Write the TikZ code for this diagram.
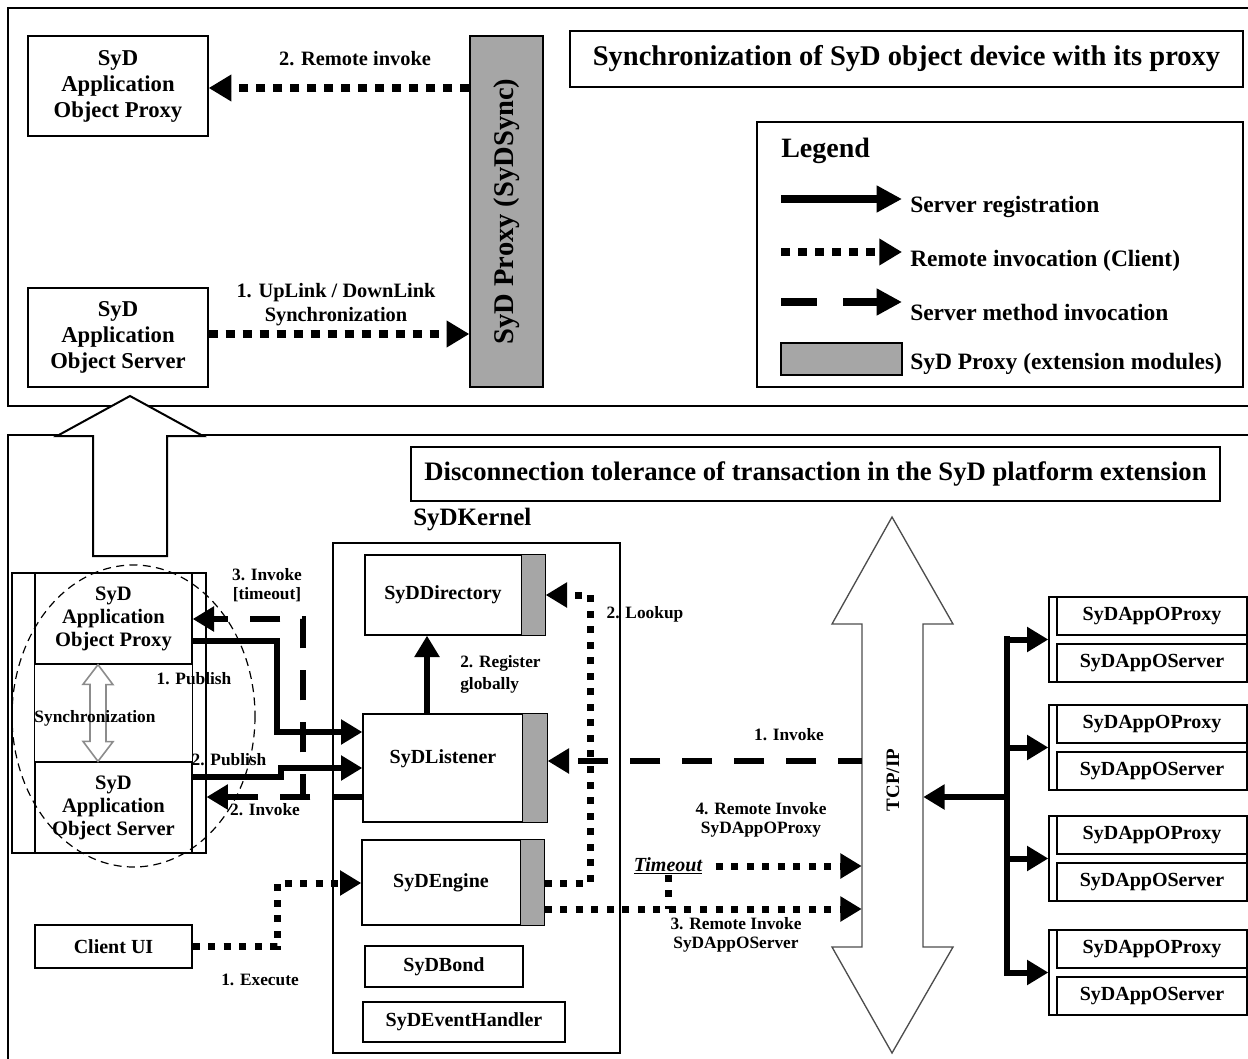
\documentclass[tikz,border=0pt]{standalone}
\usepackage{fontspec}
\setmainfont{Liberation Serif}
\usetikzlibrary{arrows.meta}

\definecolor{proxgray}{HTML}{A6A6A6}
\definecolor{netgray}{HTML}{4D4D4D}
\definecolor{syncgray}{HTML}{8C8C8C}

\newcommand\setfs[2]{\fontsize{#1}{#2}\selectfont\bfseries}

\tikzset{
  sz/.style 2 args={minimum width=#1*0.75pt, minimum height=#2*0.75pt},
  frame/.style={line width=1.5pt},
  box/.style={draw, line width=1pt, inner sep=0pt, align=center},
  topbox/.style={box, font=\setfs{17}{19.5}},
  kbox/.style={box, font=\setfs{15}{17}},
  cbox/.style={box, font=\setfs{15.4}{17.25}},
  lbl/.style={font=\setfs{13}{14.25}, align=center, inner sep=0pt},
  legtxt/.style={anchor=west, inner sep=0pt, font=\setfs{17.6}{20}},
  proxfill/.style={draw, line width=1pt, fill=proxgray, inner sep=0pt},
  tip/.style={-{Triangle[length=16pt,width=18pt]}},
  solidarrow/.style={line width=4.5pt, line join=miter, tip},
  dotline/.style={line width=5.25pt, dash pattern=on 5.25pt off 6.4pt},
  dotarrow/.style={dotline, tip},
  bigdot/.style={line width=6pt, dash pattern=on 6.75pt off 6pt, -{Triangle[length=17pt,width=19pt]}},
  dasharrow/.style={line width=5pt, dash pattern=on 22.5pt off 16.5pt, tip},
  hollow/.style={draw, fill=white, line width=1.5pt, line join=miter},
}

\begin{document}
\begin{tikzpicture}[x=0.75pt,y=-0.75pt]
\useasboundingbox (0,0) rectangle (1248,1059);

% panel frames
\draw[frame] (1260,8) -- (8,8) -- (8,406) -- (1260,406);
\draw[frame] (1260,435) -- (8,435) -- (8,1070);

% hollow arrow linking the two panels
\draw[hollow] (93,556) -- (93,436) -- (57,436) -- (130,396) -- (203,436) -- (167,436) -- (167,556) -- cycle;

% ---------------- upper panel ----------------
\node[topbox, sz={180}{100}] (topProxy) at (118,86) {SyD\\Application\\Object Proxy};
\node[topbox, sz={180}{99}] (topServer) at (118,337.5) {SyD\\Application\\Object Server};
\node[proxfill, sz={73}{351}] (syncProxy) at (506.5,211.5) {};
\node[rotate=90, font=\setfs{21.4}{24}] (syncTxt) at (syncProxy.center) {SyD Proxy (SyDSync)};

\draw[bigdot] (syncProxy.west |- 0,88) -- (topProxy.east |- 0,88);
\node[font=\setfs{15.3}{18}] (lblRemote) at (355,59) {2. Remote invoke};
\draw[bigdot] (topServer.east |- 0,334) -- (syncProxy.west |- 0,334);
\node[font=\setfs{15.3}{18}, align=center] (lblUp) at (336,305) {1. UpLink / DownLink\\Synchronization};

\node[box, sz={673}{56}, font=\setfs{21.4}{24}] (title1) at (906.5,59) {Synchronization of SyD object device with its proxy};

% legend
\node[box, sz={486}{265}] (legend) at (1000,254.5) {};
\node[anchor=west, inner sep=0pt, font=\setfs{21}{24}] (legHead) at (781,151) {Legend};
\coordinate (l1a) at (781,199); \coordinate (l1b) at (902,199);
\draw[line width=5.5pt, -{Triangle[length=19pt,width=19pt]}] (l1a) -- (l1b);
\node[legtxt] (leg1) at (910,207) {Server registration};
\coordinate (l2a) at (781,252); \coordinate (l2b) at (902,252);
\draw[bigdot] (l2a) -- (l2b);
\node[legtxt] (leg2) at (910,261) {Remote invocation (Client)};
\coordinate (l3a) at (781,302); \coordinate (l3b) at (902,302);
\draw[line width=6pt, dash pattern=on 27pt off 19.5pt, -{Triangle[length=19pt,width=19pt]}] (l3a) -- (l3b);
\node[legtxt] (leg3) at (910,312) {Server method invocation};
\node[proxfill, sz={121}{32}] (legBox) at (841.5,359) {};
\node[legtxt] (leg4) at (910,364) {SyD Proxy (extension modules)};

% ---------------- lower panel ----------------
\node[box, sz={809}{54}, font=\setfs{20}{24}] (title2) at (815.5,474) {Disconnection tolerance of transaction in the SyD platform extension};
\node[anchor=west, inner sep=0pt, font=\setfs{18.75}{22}] (kernelLbl) at (413,520) {SyDKernel};

% kernel and its modules
\node[draw, line width=2pt, inner sep=0pt, sz={287}{510}] (kernel) at (476.5,798) {};
\node[kbox, sz={180}{80}] (dir) at (455,595) {SyDDirectory\hspace*{18pt}};
\draw[proxfill] ([xshift=-18pt]dir.north east) rectangle (dir.south east);
\node[kbox, sz={184}{108}] (lis) at (455,768) {};
\draw[proxfill] ([xshift=-18.75pt]lis.north east) rectangle (lis.south east);
\node[font=\setfs{15}{17}, inner sep=0pt] (lisTxt) at (443,759) {SyDListener};
\node[kbox, sz={182}{85}] (eng) at (453,882.5) {SyDEngine\hspace*{18pt}};
\draw[proxfill] ([xshift=-18pt]eng.north east) rectangle (eng.south east);
\node[kbox, sz={158}{41}] (bond) at (444,966.5) {SyDBond};
\node[kbox, sz={202}{40}] (evt) at (464,1022) {SyDEventHandler};

\draw[solidarrow] (lis.north -| 427,0) -- (dir.south -| 427,0);
\node[font=\setfs{13}{16.5}, align=left, inner sep=0pt, anchor=west] (lblReg) at (460,674) {2. Register\\globally};

% application object cluster
\node[draw, line width=0.8pt, inner sep=0pt, sz={194}{280}] (cluster) at (109,713) {};
\node[cbox, sz={157}{91}] (appProxy) at (113.5,618.5) {SyD\\Application\\Object Proxy};
\node[cbox, sz={157}{91}] (appServer) at (113.5,807.5) {SyD\\Application\\Object Server};
\draw[line width=1pt] (appProxy.south west) -- (appServer.north west);
\draw[line width=1pt] (appProxy.south east) -- (appServer.north east);

\coordinate (syncTop) at (appProxy.south -| 98,0);
\coordinate (syncBot) at (appServer.north -| 98,0);
\draw[draw=syncgray, fill=white, line width=1.2pt, line join=miter]
  (syncTop) -- ++(15,20) -- ++(-7,0) -- ++(0,57) -- ++(7,0) -- (syncBot)
  -- ++(-15,-20) -- ++(7,0) -- ++(0,-57) -- ++(-7,0) -- cycle;

% registration and invocation between cluster and listener
\draw[solidarrow] (appProxy.east |- 0,641) -| (277,732) -- (lis.west |- 0,732);
\draw[solidarrow] (appServer.east |- 0,777) -- (281,777) -- (281,768) -- (lis.west |- 0,768);
\draw[dasharrow] (lis.west |- 0,797) -- (cluster.east |- 0,797);
\draw[dasharrow] (lis.west |- 0,797) -- (303,797) -- (303,619) -- (appProxy.east |- 0,619);

\draw[line width=0.9pt, dash pattern=on 6pt off 4pt] (133.5,716) ellipse (121.5 and 151);

\node[lbl] (lblSync) at (95,718) {Synchronization};
\node[lbl] (lblPub1) at (194,679) {1. Publish};
\node[lbl] (lblPub2) at (229,760) {2. Publish};
\node[lbl] (lblInv2) at (265,810) {2. Invoke};
\node[lbl] (lblInv3) at (267,585.5) {3. Invoke\\{}[timeout]};

% client
\node[kbox, sz={157}{43}] (client) at (113.5,946.5) {Client UI};
\draw[dotarrow] (client.east) -| (277,883) -- (eng.west |- 0,883);
\node[lbl] (lblExec) at (260,980) {1. Execute};

\draw[dotarrow] (eng.east |- 0,883) -| (590,595) -- (dir.east |- 0,595);
\node[lbl] (lblLook) at (645,614) {2. Lookup};

% network
\draw[draw=netgray, fill=white, line width=1pt, line join=miter]
  (892,517) -- (953,624) -- (923,624) -- (923,947) -- (953,947) -- (892,1053)
  -- (832,947) -- (862,947) -- (862,624) -- (832,624) -- cycle;
\node[inner sep=0pt, sz={61}{323}] (tcp) at (892.5,785.5) {};
\node[rotate=90, font=\setfs{14.25}{16}] (tcpTxt) at (893,780) {TCP/IP};

\draw[dasharrow, dash phase=5pt] (tcp.west |- 0,761) -- (lis.east |- 0,761);
\node[lbl] (lblInv1) at (789,735) {1. Invoke};

\node[lbl] (lblRem4) at (761,820) {4. Remote Invoke\\SyDAppOProxy};
\node[font=\setfs{15}{17}\itshape, inner sep=0pt] (timeout) at (668,866) {\underline{Timeout}};
\draw[dotarrow] ([xshift=10pt]timeout.east) -- (tcp.west |- timeout.east);
\draw[dotarrow] (eng.east |- 0,909) -- (tcp.west |- 0,909);
\draw[dotline] (timeout.south) -- (timeout.south |- 0,909);
\node[lbl] (lblRem3) at (736,935) {3. Remote Invoke\\SyDAppOServer};

% remote application objects
\foreach \i/\t in {1/597,2/705,3/816,4/930}{
  \node[draw, line width=1pt, inner sep=0pt, sz={198}{85}] (grp\i) at (1148,\t+42.5) {};
  \node[kbox, sz={190}{38}] (gp\i) at (1152,\t+19) {SyDAppOProxy};
  \node[kbox, sz={190}{38}] (gs\i) at (1152,\t+66) {SyDAppOServer};
}
\coordinate (busA) at (grp1.west -| 1007,0);
\coordinate (busB) at (grp4.west -| 1007,0);
\coordinate (busMid) at (1007,797);
\draw[line width=5pt, line cap=rect] (busA) -- (busB);
\foreach \i in {1,2,3,4}{
  \draw[solidarrow] (grp\i.west -| busA) -- (grp\i.west);
}
\draw[solidarrow] (busMid) -- (tcp.east |- busMid);

\end{tikzpicture}
\end{document}
